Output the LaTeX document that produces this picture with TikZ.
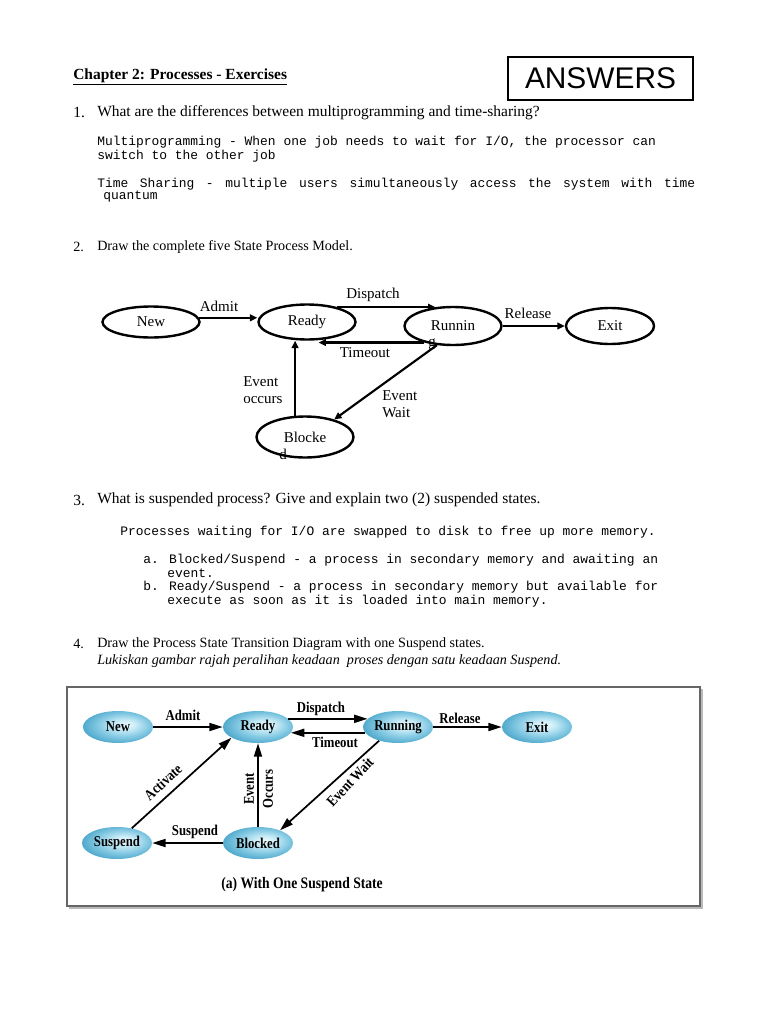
\documentclass[tikz,border=0pt]{standalone}
\usepackage{fontspec}
\setmainfont{Liberation Serif}
\newfontfamily\monof{Liberation Mono}
\newfontfamily\sansf{Liberation Sans}
\newfontfamily\condf[FakeStretch=0.85]{Liberation Serif}
\usetikzlibrary{shapes.geometric,arrows.meta,calc}
\pgfdeclareradialshading{bubble}{\pgfpoint{6bp}{4bp}}{rgb(0bp)=(0.91,0.97,0.99); rgb(7bp)=(0.80,0.93,0.97); rgb(18bp)=(0.52,0.79,0.89); rgb(28bp)=(0.31,0.66,0.80); rgb(50bp)=(0.31,0.66,0.80)}
\tikzset{
  txt/.style={anchor=west, inner sep=0pt, font=\fontsize{11.6pt}{14pt}\selectfont},
  txts/.style={anchor=west, inner sep=0pt, font=\fontsize{10.6pt}{13pt}\selectfont},
  mono/.style={anchor=west, inner sep=0pt, font=\monof\fontsize{9.7pt}{11pt}\selectfont},
  lab/.style={inner sep=0pt, font=\fontsize{11.25pt}{14pt}\selectfont},
  st1/.style={ellipse, draw, line width=1.8pt, inner sep=0pt, minimum width=72.75pt, font=\fontsize{11.25pt}{14pt}\selectfont},
  ar1/.style={-{Triangle[length=5.5pt,width=5pt]}, line width=1.6pt},
  st2/.style={ellipse, shading=bubble, inner sep=0pt, minimum width=52.5pt, minimum height=24pt, font=\condf\bfseries\fontsize{11.25pt}{13pt}\selectfont},
  lab2/.style={inner sep=0pt, font=\condf\bfseries\fontsize{11.25pt}{13pt}\selectfont},
  ar2/.style={-{Triangle[length=10pt,width=6pt]}, line width=1.3pt}
}
\begin{document}
\begin{tikzpicture}[x=0.75pt,y=-0.75pt]
\fill[white] (0,0) rectangle (768,1024);
\useasboundingbox (0,0) rectangle (768,1024);

% header
\node[txt] (head) at (73,77) {\bfseries\underline{Chapter 2: Processes - Exercises}};
\node[draw, line width=0.8pt, inner sep=0pt, minimum width=138.75pt, minimum height=32.25pt, font=\sansf\fontsize{22.4pt}{24pt}\selectfont] (ans) at (600.5,78.5) {ANSWERS};

% question 1
\node[txt] (q1n) at (73,113) {1.};
\node[txt] (q1) at (97,113) {What are the differences between multiprogramming and time-sharing?};
\node[mono] (m1) at (97,142) {Multiprogramming - When one job needs to wait for I/O, the processor can};
\node[mono] (m2) at (97,156) {switch to the other job};
\node[mono] (m3) at (97,184) {\makebox[448.5pt][l]{Time\hfill Sharing\hfill -\hfill multiple\hfill users\hfill simultaneously\hfill access\hfill the\hfill system\hfill with\hfill time}};
\node[mono] (m4) at (103,197) {quantum};

% question 2
\node[txts] (q2n) at (73,247) {2.};
\node[txts] (q2) at (97,247) {Draw the complete five State Process Model.};

% diagram 1
\node[st1, minimum height=23.25pt] (new) at (151,322) {New};
\node[st1, minimum height=26.25pt] (ready) at (307,322) {Ready};
\node[lab] (rung) at (432,344) {g};
\node[st1, minimum height=28.5pt] (running) at (453,326) {Runnin};
\node[st1, minimum width=66pt, minimum height=27pt] (exit) at (610,326) {Exit};
\node[lab] (blkd) at (283,454) {d};
\node[st1, minimum height=30.75pt] (blocked) at (305,437) {Blocke};

\coordinate (dtip) at ($(running.north)!0.5!(running.north west)$);
\coordinate (ttip) at ($(ready.south)!0.33!(ready.south east)$);
\draw[ar1] (new.5) -- (new.5 -| ready.west);
\draw[ar1] (ready.26) -- (ready.26 -| dtip);
\draw[ar1] (running.-150) -- (running.-150 -| ttip);
\draw[ar1] (running.east) -- (exit.west);
\draw[ar1] (blocked.115) -- (blocked.115 |- ready.south);
\draw[ar1] (running.-130) -- (blocked.31);

\node[lab] (l1) at (219,306) {Admit};
\node[lab] (l2) at (373,295) {Dispatch};
\node[lab] (l3) at (365,353) {Timeout};
\node[lab] (l4) at (528,313) {Release};
\node[lab, anchor=west, align=left, font=\fontsize{11.25pt}{13pt}\selectfont] (l5) at (243,390) {Event\\occurs};
\node[lab, anchor=west, align=left, font=\fontsize{11.25pt}{12.5pt}\selectfont] (l6) at (382,404) {Event\\Wait};

% question 3
\node[txt] (q3n) at (73,500) {3.};
\node[txt] (q3) at (97,500) {What is suspended process? Give and explain two (2) suspended states.};
\node[mono] (p1) at (120,532) {Processes waiting for I/O are swapped to disk to free up more memory.};
\node[mono] (p2) at (143,560) {a. Blocked/Suspend - a process in secondary memory and awaiting an};
\node[mono] (p3) at (167,573) {event.};
\node[mono] (p4) at (143,587) {b. Ready/Suspend - a process in secondary memory but available for};
\node[mono] (p5) at (167,601) {execute as soon as it is loaded into main memory.};

% question 4
\node[txts] (q4n) at (73,644) {4.};
\node[txts] (q4) at (97,644) {Draw the Process State Transition Diagram with one Suspend states.};
\node[txts] (q4m) at (97,661) {\itshape Lukiskan gambar rajah peralihan keadaan\ \ proses dengan satu keadaan Suspend.};

% diagram 2 frame
\draw[gray!55, line width=1.5pt] (68.5,907.5) -- (701.5,907.5) -- (701.5,688.5);
\draw[black!60, line width=0.9pt] (67,687) rectangle (700,906);

\node[st2] (new2) at (118,727) {New};
\node[st2] (ready2) at (258,727) {Ready};
\node[st2] (running2) at (398,727) {Running};
\node[st2] (exit2) at (537,727) {Exit};
\node[st2] (suspend2) at (117,843) {Suspend};
\node[st2] (blocked2) at (258,843) {Blocked};

\draw[ar2] (new2.east) -- (ready2.west);
\draw[ar2] (ready2.15) -- (running2.165);
\draw[ar2] (running2.-170) -- (ready2.-10);
\draw[ar2] (running2.east) -- (exit2.west);
\draw[ar2] (blocked2.west) -- (suspend2.east);
\draw[ar2] (suspend2.45) -- (ready2.-158);
\draw[ar2] (blocked2.north) -- (ready2.south);
\draw[ar2] (running2.-144) -- (blocked2.30);

\node[lab2] (k1) at (183,715) {Admit};
\node[lab2] (k2) at (321,709) {Dispatch};
\node[lab2] (k3) at (335,742) {Timeout};
\node[lab2] (k4) at (460,718) {Release};
\node[lab2] (k5) at (195,832) {Suspend};
\node[lab2, rotate=43] (k6) at (163,782) {Activate};
\node[lab2, rotate=90] (k7) at (249,789) {Event};
\node[lab2, rotate=90] (k8) at (268,789) {Occurs};
\node[lab2, rotate=47] (k9) at (350,782) {Event Wait};
\node[lab2, font=\condf\bfseries\fontsize{12pt}{14pt}\selectfont] (cap) at (302,885) {(a) With One Suspend State};
\end{tikzpicture}
\end{document}
